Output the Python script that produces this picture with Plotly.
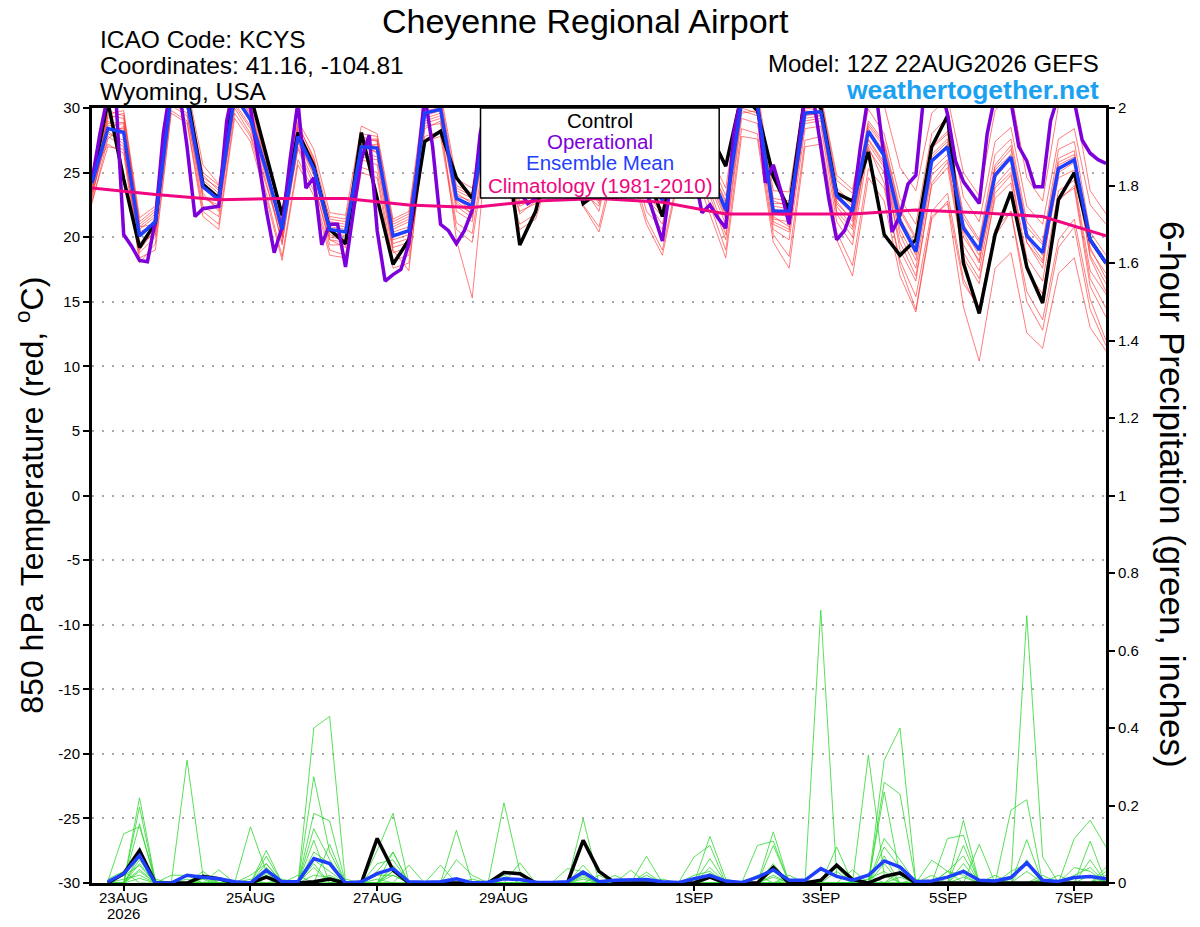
import plotly.graph_objects as go

# forecast hours from 12Z 22AUG2026
hours = list(range(0, 385, 6))
hours_op = list(range(0, 385, 3))
hours_pcp = list(range(6, 385, 6))
hours_clim = list(range(0, 385, 24))

tick_hours = [12, 60, 108, 156, 228, 276, 324, 372]
tick_labels = ["23AUG", "25AUG", "27AUG", "29AUG", "1SEP", "3SEP", "5SEP", "7SEP"]
year_label = "2026"
temp_ticks = [-30, -25, -20, -15, -10, -5, 0, 5, 10, 15, 20, 25, 30]
pcp_ticks = [0, 0.2, 0.4, 0.6, 0.8, 1, 1.2, 1.4, 1.6, 1.8, 2]

# 850 hPa temperature (C)
control_t = [24.3, 30.5, 24.5, 19.2, 21.1, 32.0, 31.0, 24.1, 23.0, 32.0, 31.0, 26.3, 21.7,
             28.1, 25.5, 20.6, 19.5, 28.1, 23.0, 17.9, 19.8, 27.4, 28.2, 24.6, 23.0, 30.0,
             28.3, 19.4, 22.0, 27.0, 27.0, 22.6, 23.5, 29.0, 28.0, 25.0, 21.6, 27.0, 28.0,
             28.0, 25.5, 31.0, 29.8, 24.7, 22.1, 31.0, 30.0, 23.4, 22.8, 26.6, 20.2, 18.6,
             19.8, 27.0, 29.4, 18.0, 14.1, 20.2, 23.5, 17.7, 14.9, 22.9, 25.0, 19.8, 18.0]
mean_t = [24.2, 28.4, 28.1, 20.1, 21.2, 31.0, 30.5, 23.9, 22.9, 31.0, 29.1, 25.2, 20.6,
          27.8, 25.3, 20.6, 20.4, 27.0, 26.9, 20.1, 20.5, 29.6, 29.9, 23.0, 22.4, 30.0,
          27.0, 23.5, 24.0, 27.5, 28.0, 25.0, 23.5, 28.0, 27.5, 24.0, 22.9, 27.0, 27.5,
          25.0, 22.1, 30.5, 30.2, 22.0, 22.0, 29.6, 29.7, 23.2, 22.0, 28.2, 26.3, 21.2,
          18.9, 25.9, 27.0, 20.7, 19.0, 24.8, 26.2, 20.1, 18.8, 25.3, 26.0, 19.8, 18.0]
operational_t = [24.4, 28.0, 31.0, 31.0, 20.2, 19.3, 18.2, 18.1, 21.3, 28.0, 32.0, 31.5, 27.0, 21.6, 22.2, 22.3,
                 22.4, 29.0, 32.0, 32.0, 30.0, 26.0, 22.1, 18.8, 20.8, 26.0, 30.5, 23.8, 24.6, 19.4, 21.0, 21.0,
                 17.7, 22.0, 26.0, 27.9, 20.5, 16.6, 17.1, 17.5, 19.5, 25.0, 31.0, 27.0, 21.0, 20.5, 19.5, 20.5,
                 22.1, 28.0, 31.0, 31.0, 28.0, 25.0, 23.5, 22.6, 23.0, 26.0, 28.0, 29.0, 27.0, 25.0, 23.0, 23.5,
                 23.5, 27.0, 29.0, 29.0, 27.0, 25.0, 23.5, 21.5, 19.7, 24.0, 28.0, 28.0, 25.0, 21.9, 22.5, 21.5,
                 20.7, 28.0, 31.0, 31.0, 30.5, 24.2, 25.6, 23.5, 21.0, 26.0, 31.0, 31.0, 27.0, 23.0, 19.8, 20.5,
                 22.2, 27.0, 31.0, 31.0, 26.1, 20.4, 21.7, 24.1, 24.8, 31.0, 32.0, 32.0, 29.5, 25.9, 24.3, 23.5,
                 22.6, 28.0, 31.0, 31.0, 30.5, 27.0, 25.9, 23.9, 23.9, 29.0, 31.0, 31.0, 30.5, 27.5, 26.5, 26.0,
                 25.7]
clim_t = [23.8, 23.3, 22.9, 23.0, 23.0, 22.5, 22.3, 22.8, 23.0, 22.7, 21.8, 21.8, 21.8, 22.1, 21.9, 21.6, 20.1]

ens_t01 = [23.5, 29.5, 29.8, 21.5, 22.4, 32.5, 31.8, 25.6, 24.1, 32.0, 30.4, 26.5, 21.8,
           29.0, 26.8, 21.9, 21.7, 28.6, 28.0, 21.4, 22.0, 31.0, 31.2, 24.5, 23.8, 31.5,
           28.3, 24.6, 25.0, 29.0, 29.5, 26.0, 24.3, 29.5, 28.8, 25.4, 24.0, 28.7, 29.2,
           26.4, 23.8, 31.8, 31.4, 23.6, 23.5, 31.2, 31.0, 24.8, 23.7, 29.9, 28.0, 23.0,
           21.0, 28.0, 29.3, 23.1, 21.2, 27.4, 28.5, 22.4, 21.0, 27.6, 28.4, 22.5, 21.0]
ens_t02 = [24.8, 27.2, 26.5, 18.0, 19.5, 29.8, 29.0, 22.0, 21.0, 29.6, 27.8, 23.4, 18.5,
           26.0, 23.6, 19.0, 18.6, 25.4, 25.0, 18.2, 18.6, 27.8, 28.2, 21.1, 20.3, 28.4,
           25.2, 21.0, 21.8, 25.7, 26.2, 22.5, 20.8, 26.0, 25.6, 21.4, 19.0, 24.8, 25.6,
           22.5, 19.0, 28.4, 28.0, 20.2, 18.5, 27.5, 27.8, 20.4, 17.8, 25.3, 23.8, 18.2,
           15.4, 22.0, 23.4, 16.8, 14.2, 20.1, 22.0, 15.8, 13.6, 19.8, 21.4, 15.2, 12.0]
ens_t03 = [23.0, 28.8, 28.9, 19.0, 20.6, 31.6, 30.0, 23.0, 22.5, 31.4, 29.9, 25.8, 20.0,
           28.2, 25.9, 20.2, 19.8, 27.5, 27.5, 19.5, 19.9, 30.2, 30.4, 22.4, 21.5, 30.6,
           27.8, 23.2, 23.6, 28.2, 28.5, 24.6, 22.6, 28.4, 28.1, 23.6, 22.2, 27.6, 28.1,
           24.3, 21.4, 31.2, 30.8, 21.4, 21.2, 30.1, 30.4, 22.6, 21.4, 28.8, 27.2, 22.0,
           19.8, 26.9, 28.0, 21.5, 19.6, 25.6, 27.1, 20.8, 19.4, 26.1, 26.7, 19.0, 17.2]
ens_t04 = [24.0, 28.0, 27.5, 20.8, 21.8, 30.8, 30.8, 24.4, 23.4, 30.4, 28.6, 24.6, 21.0,
           27.3, 24.8, 21.2, 21.0, 26.6, 26.2, 20.8, 21.4, 29.0, 29.4, 23.6, 23.0, 29.6,
           26.4, 22.8, 23.1, 27.1, 27.6, 25.4, 24.0, 27.6, 27.0, 24.5, 23.4, 26.5, 27.0,
           25.5, 22.8, 30.0, 29.6, 22.6, 22.6, 29.0, 29.2, 23.8, 22.6, 27.5, 25.6, 20.6,
           18.2, 25.2, 26.4, 20.0, 18.2, 24.0, 25.4, 19.6, 18.0, 24.6, 25.2, 18.6, 16.4]
ens_t05 = [22.6, 27.6, 28.6, 19.6, 20.2, 31.2, 31.4, 23.4, 22.0, 30.8, 28.9, 24.8, 19.4,
           27.9, 25.0, 19.8, 19.2, 27.2, 26.5, 19.0, 17.4, 28.4, 29.0, 19.8, 15.3, 28.0,
           26.4, 22.0, 22.6, 27.0, 28.2, 23.8, 22.0, 27.8, 27.2, 22.8, 21.0, 26.8, 27.8,
           23.6, 20.2, 29.6, 29.8, 21.0, 20.4, 29.4, 29.6, 21.8, 20.0, 27.6, 25.8, 19.0,
           16.6, 24.2, 25.8, 18.8, 16.8, 23.0, 24.2, 17.4, 15.6, 22.8, 24.0, 16.8, 14.5]
ens_t06 = [23.8, 29.0, 28.2, 20.4, 21.0, 31.8, 30.2, 24.0, 23.0, 31.6, 29.4, 25.5, 20.8,
           28.0, 25.4, 20.4, 20.1, 27.0, 27.2, 20.0, 20.6, 29.8, 30.0, 23.2, 22.8, 30.3,
           27.0, 23.6, 24.2, 27.8, 28.0, 25.0, 23.6, 28.2, 27.6, 24.2, 23.0, 27.0, 27.4,
           24.8, 21.8, 30.6, 30.0, 21.8, 21.6, 29.6, 29.4, 22.8, 21.2, 27.0, 24.2, 17.8,
           14.4, 21.6, 22.6, 14.6, 10.4, 17.6, 18.8, 12.6, 11.4, 17.2, 18.4, 13.0, 11.2]
ens_t07 = [24.4, 28.6, 28.8, 20.6, 21.6, 30.6, 30.0, 24.6, 23.8, 30.6, 29.2, 25.0, 21.2,
           27.6, 25.6, 21.0, 20.8, 27.4, 27.0, 20.6, 21.2, 29.2, 29.6, 23.8, 23.2, 30.8,
           27.6, 24.2, 24.8, 28.0, 28.6, 25.8, 24.6, 28.8, 28.4, 25.2, 24.2, 28.0, 28.4,
           26.0, 23.2, 31.4, 31.0, 23.0, 22.8, 30.6, 30.8, 24.4, 23.4, 30.6, 30.2, 25.4,
           23.6, 29.6, 30.8, 25.0, 23.2, 29.8, 31.2, 24.6, 22.8, 30.2, 30.6, 23.6, 21.8]
ens_t08 = [23.2, 28.2, 27.2, 18.8, 20.0, 30.4, 29.6, 22.4, 21.6, 30.2, 28.4, 24.2, 19.6,
           27.0, 24.4, 19.4, 19.4, 26.2, 26.0, 19.2, 19.6, 28.8, 29.2, 22.0, 21.2, 29.4,
           26.0, 21.8, 22.8, 26.8, 27.2, 23.4, 22.4, 27.0, 26.4, 22.0, 20.6, 25.8, 26.6,
           23.2, 19.8, 29.2, 28.8, 20.6, 19.8, 28.4, 28.6, 21.2, 19.4, 26.8, 25.0, 19.6,
           17.0, 24.0, 25.4, 18.4, 16.4, 23.4, 24.8, 17.8, 15.2, 23.0, 23.8, 16.2, 13.8]
ens_t09 = [24.6, 29.4, 29.2, 21.0, 22.0, 32.0, 31.2, 25.0, 24.0, 31.8, 30.2, 26.0, 21.4,
           28.6, 26.2, 21.4, 21.2, 28.0, 27.8, 21.0, 21.6, 30.6, 30.8, 24.0, 23.4, 31.0,
           28.0, 24.0, 24.6, 28.6, 29.0, 26.2, 24.8, 29.0, 28.6, 25.0, 23.6, 28.2, 28.8,
           25.6, 22.6, 31.0, 30.8, 22.8, 22.4, 30.4, 30.2, 23.6, 22.4, 29.0, 27.4, 22.2,
           20.0, 27.0, 28.2, 21.8, 19.8, 26.4, 27.6, 21.2, 19.6, 26.8, 27.4, 20.4, 18.6]
ens_t10 = [22.8, 27.0, 26.8, 19.4, 20.4, 30.2, 29.4, 23.2, 22.2, 30.0, 28.0, 24.0, 20.2,
           26.8, 24.0, 19.8, 19.6, 26.0, 25.6, 18.8, 19.2, 28.6, 28.8, 22.6, 21.8, 29.2,
           26.6, 23.0, 23.4, 26.4, 27.0, 24.2, 23.0, 27.2, 26.8, 23.0, 21.6, 26.2, 26.8,
           24.0, 21.0, 29.8, 29.4, 21.6, 20.8, 28.8, 29.0, 22.0, 20.6, 27.2, 25.4, 20.2,
           17.6, 24.8, 26.0, 19.4, 17.4, 23.8, 25.0, 18.4, 16.6, 23.6, 24.4, 17.4, 15.6]
ens_t11 = [24.2, 29.8, 29.4, 21.2, 22.2, 31.4, 30.6, 24.2, 23.2, 31.2, 29.6, 25.6, 20.4,
           28.4, 25.8, 20.8, 20.6, 27.8, 27.4, 20.4, 20.8, 30.4, 30.6, 23.4, 22.6, 30.4,
           27.4, 23.8, 24.4, 28.0, 28.4, 25.2, 23.8, 28.6, 28.0, 24.6, 23.2, 27.4, 27.8,
           25.0, 22.4, 30.8, 30.4, 22.2, 21.8, 30.0, 29.8, 23.2, 22.0, 28.4, 26.6, 21.4,
           19.4, 26.4, 27.6, 21.0, 19.0, 25.4, 26.8, 20.4, 18.6, 25.8, 26.4, 19.8, 17.8]
ens_t12 = [23.4, 27.8, 27.0, 18.4, 19.0, 29.6, 28.8, 21.6, 20.6, 29.2, 27.4, 23.0, 18.2,
           25.6, 23.2, 18.6, 18.4, 25.0, 24.6, 17.6, 18.0, 27.4, 27.8, 20.6, 19.6, 27.8,
           24.8, 20.6, 21.4, 25.4, 25.8, 22.4, 20.4, 25.4, 25.0, 21.0, 18.6, 24.4, 25.2,
           21.8, 18.4, 27.8, 27.6, 19.6, 17.6, 27.0, 27.2, 19.8, 17.0, 24.6, 22.8, 17.0,
           14.2, 21.4, 22.8, 16.4, 14.6, 20.6, 22.0, 15.0, 12.8, 19.2, 20.8, 14.4, 11.6]
ens_t13 = [23.6, 28.4, 28.4, 20.0, 21.4, 31.0, 30.4, 23.8, 22.8, 30.8, 29.0, 25.0, 21.6,
           27.4, 25.0, 21.6, 21.4, 27.0, 26.6, 21.2, 21.8, 29.4, 29.8, 23.0, 22.0, 29.8,
           27.2, 22.4, 23.0, 27.4, 27.8, 24.8, 23.4, 28.0, 27.4, 24.0, 22.6, 27.2, 27.6,
           25.2, 22.0, 30.2, 30.0, 22.4, 22.2, 29.8, 29.6, 23.0, 21.8, 28.0, 26.4, 21.0,
           18.6, 25.8, 27.2, 20.6, 18.6, 25.2, 26.4, 20.0, 18.2, 25.0, 25.8, 19.2, 16.8]
ens_t14 = [24.0, 29.2, 29.6, 20.8, 21.0, 31.6, 31.0, 24.8, 23.6, 31.0, 29.8, 25.4, 20.0,
           28.8, 26.0, 20.0, 19.8, 27.6, 27.6, 19.8, 20.2, 30.0, 30.2, 22.8, 21.8, 30.2,
           27.8, 23.4, 24.0, 28.4, 28.8, 24.4, 22.8, 28.4, 27.8, 23.4, 21.8, 27.8, 28.2,
           24.6, 21.6, 30.4, 30.6, 21.2, 20.6, 29.2, 29.4, 22.4, 20.8, 28.6, 27.0, 21.6,
           18.8, 26.2, 27.4, 20.4, 18.0, 24.6, 26.0, 19.6, 17.6, 25.6, 26.2, 18.4, 15.8]

# 6-hour precipitation (inches), hours 6..384
control_p = [0, 0.024, 0.084, 0, 0, 0, 0.017, 0.011, 0, 0, 0.015, 0, 0, 0.003, 0.01, 0,
             0, 0.115, 0.033, 0, 0, 0, 0, 0, 0, 0.027, 0.024, 0, 0, 0, 0.11, 0.03,
             0, 0, 0, 0, 0, 0, 0.015, 0, 0, 0, 0.04, 0, 0, 0.007, 0.046, 0.009,
             0, 0.017, 0.026, 0, 0, 0, 0, 0, 0, 0, 0, 0, 0, 0, 0, 0]
mean_p = [0.003, 0.024, 0.071, 0, 0, 0.02, 0.015, 0.011, 0.003, 0, 0.033, 0.003, 0.003, 0.063, 0.05, 0,
          0.003, 0.024, 0.037, 0.003, 0.002, 0.003, 0.011, 0, 0.002, 0.011, 0.009, 0.002, 0.001, 0.003, 0.028, 0.003,
          0.007, 0.009, 0.009, 0.003, 0.001, 0.011, 0.02, 0.005, 0.001, 0.015, 0.034, 0.007, 0.007, 0.037, 0.017, 0.007,
          0.02, 0.057, 0.041, 0.003, 0.005, 0.015, 0.03, 0.007, 0.005, 0.014, 0.052, 0.007, 0.004, 0.014, 0.017, 0.011]

ens_p01 = [0.005, 0.127, 0.145, 0.01, 0, 0, 0, 0, 0, 0.02, 0.05, 0, 0, 0.4, 0.43, 0,
           0, 0, 0.03, 0, 0, 0, 0, 0, 0, 0.207, 0.03, 0, 0, 0, 0, 0,
           0, 0, 0, 0, 0, 0, 0.12, 0.01, 0, 0, 0, 0, 0, 0.704, 0.02, 0,
           0, 0, 0, 0, 0, 0, 0.097, 0, 0, 0, 0, 0, 0, 0, 0.108, 0]
ens_p02 = [0, 0, 0.22, 0.005, 0, 0.317, 0.02, 0, 0, 0, 0.084, 0, 0, 0.274, 0.08, 0,
           0, 0.084, 0.18, 0, 0, 0, 0, 0, 0, 0, 0, 0, 0, 0, 0.166, 0,
           0, 0, 0, 0, 0, 0, 0, 0, 0, 0, 0.132, 0, 0, 0, 0, 0,
           0.33, 0.02, 0, 0, 0, 0, 0, 0, 0, 0.188, 0.215, 0, 0, 0, 0, 0]
ens_p03 = [0, 0, 0.196, 0, 0, 0, 0, 0, 0, 0.145, 0.03, 0, 0, 0.18, 0.16, 0,
           0, 0, 0.08, 0, 0, 0, 0.136, 0, 0, 0, 0, 0, 0, 0, 0, 0,
           0, 0, 0.069, 0, 0, 0.067, 0.097, 0, 0, 0, 0, 0, 0, 0, 0, 0,
           0, 0.317, 0.40, 0, 0, 0, 0.162, 0, 0, 0, 0, 0, 0, 0.115, 0.162, 0.093]
ens_p04 = [0, 0, 0.153, 0, 0, 0, 0, 0.034, 0, 0, 0, 0, 0, 0.14, 0.06, 0,
           0, 0.05, 0.06, 0, 0, 0, 0.06, 0.02, 0, 0, 0, 0, 0, 0, 0, 0.02,
           0, 0, 0, 0, 0, 0, 0, 0, 0, 0.097, 0.108, 0, 0, 0, 0.093, 0,
           0, 0.26, 0.229, 0, 0, 0.115, 0.123, 0, 0, 0.01, 0.69, 0.067, 0, 0, 0, 0]
ens_p05 = [0, 0.03, 0.084, 0, 0, 0, 0, 0, 0, 0, 0.069, 0, 0, 0.08, 0.05, 0,
           0, 0, 0, 0.046, 0, 0, 0, 0, 0, 0, 0.052, 0, 0, 0, 0.046, 0,
           0, 0, 0, 0, 0, 0, 0.063, 0, 0, 0, 0.097, 0, 0, 0, 0, 0,
           0, 0.235, 0.02, 0, 0, 0, 0, 0.1, 0, 0, 0, 0, 0, 0, 0, 0.04]
ens_p06 = [0, 0, 0.07, 0, 0, 0, 0.03, 0, 0, 0, 0.05, 0, 0, 0, 0, 0,
           0, 0.03, 0.08, 0, 0, 0.046, 0, 0, 0, 0, 0, 0, 0, 0.037, 0.03, 0,
           0, 0, 0.028, 0, 0, 0, 0, 0, 0, 0, 0, 0.01, 0, 0, 0, 0,
           0, 0.115, 0.06, 0, 0.059, 0.03, 0, 0, 0, 0, 0.112, 0, 0, 0, 0.06, 0]
ens_p07 = [0, 0, 0.06, 0, 0, 0, 0, 0, 0, 0, 0.035, 0, 0, 0.06, 0.03, 0,
           0, 0, 0.04, 0, 0, 0, 0, 0, 0, 0, 0, 0, 0, 0, 0, 0,
           0, 0.033, 0, 0, 0, 0, 0.04, 0, 0, 0, 0.05, 0, 0, 0, 0, 0,
           0, 0.093, 0.04, 0, 0, 0, 0.05, 0, 0, 0, 0, 0, 0, 0.04, 0.03, 0]
ens_p08 = [0, 0.02, 0.045, 0, 0.02, 0.02, 0, 0, 0, 0, 0.025, 0, 0, 0.04, 0, 0,
           0, 0.02, 0.02, 0, 0, 0, 0, 0.01, 0, 0, 0, 0, 0, 0, 0.02, 0,
           0, 0, 0, 0, 0, 0.02, 0.03, 0, 0, 0, 0.03, 0, 0, 0, 0, 0,
           0, 0.05, 0, 0, 0, 0.03, 0.02, 0, 0, 0, 0.03, 0, 0, 0, 0, 0.03]
ens_p09 = [0, 0, 0.035, 0, 0, 0, 0.01, 0, 0, 0, 0, 0.01, 0, 0, 0.02, 0,
           0, 0, 0.03, 0, 0, 0, 0, 0, 0, 0, 0, 0, 0, 0, 0, 0,
           0.02, 0, 0.02, 0, 0, 0, 0, 0, 0, 0.02, 0, 0, 0, 0, 0.03, 0,
           0, 0, 0.03, 0, 0, 0, 0, 0, 0.02, 0, 0, 0.01, 0, 0, 0, 0]
ens_p10 = [0, 0.01, 0.02, 0, 0, 0, 0, 0, 0, 0, 0.015, 0, 0, 0.02, 0.015, 0,
           0, 0.01, 0, 0, 0, 0, 0, 0, 0, 0, 0, 0.005, 0, 0, 0, 0,
           0, 0, 0, 0.01, 0, 0, 0, 0, 0, 0, 0.015, 0, 0, 0, 0, 0,
           0.01, 0.03, 0, 0, 0, 0, 0.015, 0, 0, 0.03, 0.05, 0, 0, 0, 0.02, 0]
ens_p11 = [0, 0, 0.012, 0, 0, 0.01, 0, 0, 0, 0.01, 0, 0, 0.02, 0, 0, 0.01,
           0, 0, 0, 0, 0, 0, 0, 0, 0, 0.02, 0, 0, 0, 0, 0.01, 0,
           0, 0, 0, 0, 0, 0, 0, 0, 0, 0, 0, 0, 0.007, 0, 0, 0.034,
           0, 0, 0, 0.01, 0, 0, 0, 0, 0, 0, 0, 0, 0.02, 0, 0, 0.01]
ens_p12 = [0, 0, 0.05, 0, 0, 0, 0, 0, 0, 0, 0.04, 0, 0, 0.11, 0, 0,
           0, 0, 0.045, 0, 0, 0, 0, 0, 0, 0, 0, 0, 0, 0, 0.03, 0,
           0, 0, 0, 0, 0, 0, 0.025, 0, 0, 0, 0, 0, 0, 0.01, 0.04, 0,
           0, 0.07, 0, 0, 0, 0.03, 0.07, 0, 0, 0, 0.06, 0, 0, 0, 0, 0]
ens_p13 = [0.01, 0.03, 0, 0, 0, 0, 0, 0, 0, 0, 0.02, 0, 0, 0, 0.1, 0,
           0, 0, 0.02, 0, 0, 0, 0, 0, 0.005, 0, 0, 0, 0, 0, 0, 0,
           0, 0.01, 0, 0, 0, 0, 0, 0, 0, 0, 0.02, 0, 0, 0, 0, 0,
           0, 0, 0.015, 0, 0.02, 0, 0, 0, 0, 0, 0, 0, 0, 0.02, 0.04, 0]
ens_p14 = [0, 0, 0.03, 0, 0, 0, 0, 0.01, 0, 0, 0, 0, 0, 0.05, 0, 0,
           0, 0, 0, 0, 0, 0, 0.01, 0, 0, 0, 0, 0, 0, 0, 0.015, 0,
           0, 0, 0.01, 0, 0, 0, 0.015, 0, 0, 0, 0, 0.02, 0, 0, 0, 0,
           0.02, 0, 0, 0, 0, 0, 0.035, 0, 0, 0, 0, 0.02, 0, 0, 0, 0.02]

temp_members = [ens_t01, ens_t02, ens_t03, ens_t04, ens_t05, ens_t06, ens_t07,
                ens_t08, ens_t09, ens_t10, ens_t11, ens_t12, ens_t13, ens_t14]
pcp_members = [ens_p01, ens_p02, ens_p03, ens_p04, ens_p05, ens_p06, ens_p07,
               ens_p08, ens_p09, ens_p10, ens_p11, ens_p12, ens_p13, ens_p14]

FONT = "Liberation Sans, Arial, Helvetica, sans-serif"
RED = "rgba(255,50,50,0.8)"
GREEN = "#2fd82f"
PURPLE = "#7d00db"
BLUE = "#1f3fff"
PINK = "#ef0680"

# page has an 8px body margin, so the figure sits 8px right/down in the screenshot
# target plot area in screenshot pixels: left 92.3, right 1106, top 108.3, bottom 882.7
def px(x):
    return (x - 92.3) / 1013.7

def py(y):
    return (882.7 - y) / 774.4


fig = go.Figure()

for m in temp_members:
    fig.add_trace(go.Scatter(x=hours, y=m, mode="lines", yaxis="y",
                             line=dict(color=RED, width=0.8), hoverinfo="skip"))
for m in pcp_members:
    fig.add_trace(go.Scatter(x=hours_pcp, y=m, mode="lines", yaxis="y2",
                             line=dict(color=GREEN, width=0.8), hoverinfo="skip"))

fig.add_trace(go.Scatter(x=hours, y=control_t, mode="lines", line=dict(color="black", width=3.5)))
fig.add_trace(go.Scatter(x=hours_op, y=operational_t, mode="lines", line=dict(color=PURPLE, width=3.5)))
fig.add_trace(go.Scatter(x=hours, y=mean_t, mode="lines", line=dict(color=BLUE, width=3.5)))
fig.add_trace(go.Scatter(x=hours_clim, y=clim_t, mode="lines", line=dict(color=PINK, width=3)))
fig.add_trace(go.Scatter(x=hours_pcp, y=control_p, mode="lines", yaxis="y2",
                         line=dict(color="black", width=3.5)))
fig.add_trace(go.Scatter(x=hours_pcp, y=mean_p, mode="lines", yaxis="y2",
                         line=dict(color=BLUE, width=3.5)))

fig.update_layout(
    width=1200, height=927,
    margin=dict(l=84, r=102, t=100, b=52, pad=0),
    paper_bgcolor="white", plot_bgcolor="white",
    showlegend=False,
    font=dict(family=FONT, color="black", size=15),
    xaxis=dict(range=[0, 384], tickmode="array", tickvals=tick_hours, showticklabels=False,
               ticks="outside", ticklen=5, tickwidth=1.5, tickcolor="black",
               showline=True, linewidth=3, linecolor="black", mirror=True,
               showgrid=False, zeroline=False, automargin=False),
    yaxis=dict(range=[-30, 30], tickmode="array", tickvals=temp_ticks,
               ticktext=[str(v) for v in temp_ticks],
               ticks="outside", ticklen=6, tickwidth=1.5, tickcolor="black",
               showline=True, linewidth=3, linecolor="black",
               showgrid=True, gridcolor="#a8a8a8", gridwidth=1.5, griddash="2px,8px",
               zeroline=False, tickfont=dict(size=15), automargin=False),
    yaxis2=dict(range=[0, 2], overlaying="y", side="right", tickmode="array",
                tickvals=pcp_ticks, ticktext=[f"{v:g}" for v in pcp_ticks],
                ticks="outside", ticklen=6, tickwidth=1.5, tickcolor="black",
                showline=True, linewidth=3, linecolor="black",
                showgrid=False, zeroline=False, tickfont=dict(size=15), automargin=False),
)

# date labels under the axis (placed a little closer than plotly's own tick labels)
for h, lab in zip(tick_hours, tick_labels):
    fig.add_annotation(x=h, y=py(897), xref="x", yref="paper", text=lab, showarrow=False,
                       xanchor="center", yanchor="middle", font=dict(size=15, family=FONT))
fig.add_annotation(x=tick_hours[0], y=py(913), xref="x", yref="paper", text=year_label,
                   showarrow=False, xanchor="center", yanchor="middle",
                   font=dict(size=15, family=FONT))

# legend box
fig.add_shape(type="rect", xref="paper", yref="paper",
              x0=px(480.7), x1=px(719.3), y0=py(198.3), y1=py(108.3),
              fillcolor="white", line=dict(color="black", width=1.5), layer="above")

legend_items = [("Control", "black", 121), ("Operational", PURPLE, 142),
                ("Ensemble Mean", BLUE, 163), ("Climatology (1981-2010)", PINK, 186)]
for txt, col, yy in legend_items:
    fig.add_annotation(x=px(600), y=py(yy), xref="paper", yref="paper", text=txt,
                       showarrow=False, xanchor="center", yanchor="middle",
                       font=dict(size=20.5, color=col, family=FONT))

header = [
    ("Cheyenne Regional Airport", 586, 21, "center", 34, "black"),
    ("ICAO Code: KCYS", 98, 40, "left", 24.5, "black"),
    ("Coordinates: 41.16, -104.81", 98, 66, "left", 24.5, "black"),
    ("Wyoming, USA", 98, 92, "left", 24.5, "black"),
    ("Model: 12Z 22AUG2026 GEFS", 1101, 64, "right", 24, "black"),
    ("<b>weathertogether.net</b>", 1101, 90, "right", 26.5, "#1ba1f2"),
]
for txt, xx, yy, anc, size, col in header:
    fig.add_annotation(x=px(xx), y=py(yy), xref="paper", yref="paper", text=txt,
                       showarrow=False, xanchor=anc, yanchor="middle",
                       font=dict(size=size, color=col, family=FONT))

fig.add_annotation(x=px(30), y=py(495), xref="paper", yref="paper",
                   text="850 hPa Temperature (red, <sup>o</sup>C)", textangle=-90,
                   showarrow=False, xanchor="center", yanchor="middle",
                   font=dict(size=32, family=FONT))
fig.add_annotation(x=px(1172), y=py(494), xref="paper", yref="paper",
                   text="6-hour Precipitation (green, inches)", textangle=90,
                   showarrow=False, xanchor="center", yanchor="middle",
                   font=dict(size=35, family=FONT))

fig.write_html("out.html")
